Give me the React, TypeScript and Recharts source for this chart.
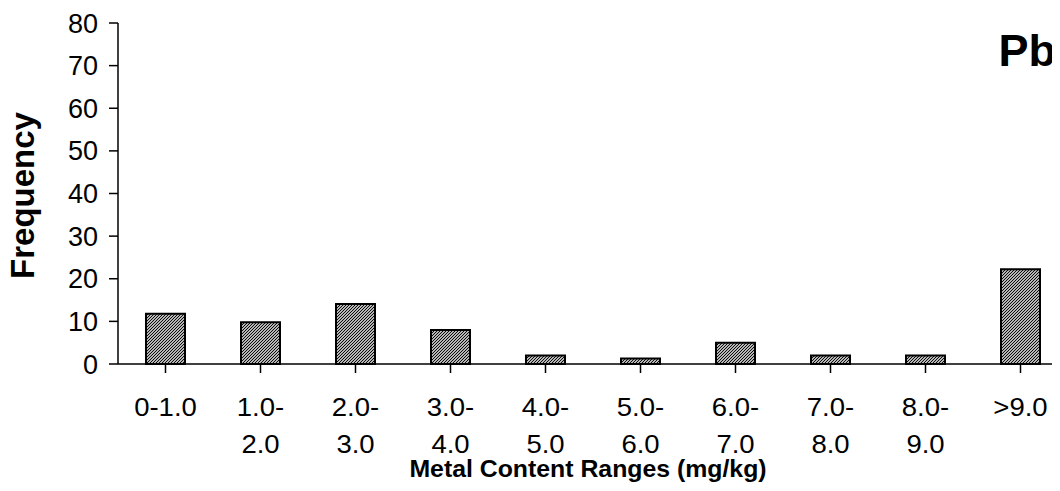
import { BarChart, Bar, XAxis, YAxis } from 'recharts'

const categories = ['0-1.0', '1.0-2.0', '2.0-3.0', '3.0-4.0', '4.0-5.0', '5.0-6.0', '6.0-7.0', '7.0-8.0', '8.0-9.0', '>9.0']
const frequency = [11.8, 9.8, 14.1, 8, 2, 1.3, 5, 2, 2, 22.2]
const tickLabels = [
  ['0-1.0'], ['1.0-', '2.0'], ['2.0-', '3.0'], ['3.0-', '4.0'], ['4.0-', '5.0'],
  ['5.0-', '6.0'], ['6.0-', '7.0'], ['7.0-', '8.0'], ['8.0-', '9.0'], ['>9.0'],
]
const yTicks = [0, 10, 20, 30, 40, 50, 60, 70, 80]

const data = categories.map((c, i) => ({ range: c, freq: frequency[i] }))

const font = '"Liberation Sans", Arial, sans-serif'

// the source image is a bit wider than tall, so text gets a horizontal stretch
function XTick(props: any) {
  const { x, y, index } = props
  const lines = tickLabels[index] || []
  return (
    <text transform={`translate(${x},${y}) scale(1.1,1)`} textAnchor="middle" fontFamily={font} fontSize={25} fill="#000">
      {lines.map((l, i) => (
        <tspan key={i} x={0} dy={i === 0 ? 18 : 37}>{l}</tspan>
      ))}
    </text>
  )
}

export default function App() {
  return (
    <div style={{ margin: -8, width: 1060, height: 491, overflow: 'hidden', position: 'relative', background: '#fff' }}>
      <svg width={0} height={0} style={{ position: 'absolute' }}>
        <defs>
          <pattern id="hatch" patternUnits="userSpaceOnUse" width={3} height={3}>
            <rect width={3} height={3} fill="#fff" />
            <path d="M-1,1 l2,-2 M0,3 l3,-3 M2,4 l2,-2" stroke="#000" strokeWidth={1.1} />
          </pattern>
        </defs>
      </svg>
      <BarChart width={1080} height={491} data={data} margin={{ top: 23, right: 12, bottom: 0, left: 0 }}>
        <XAxis
          dataKey="range"
          height={127}
          interval={0}
          tick={<XTick />}
          tickSize={9}
          tickMargin={25}
          axisLine={{ stroke: '#000', strokeWidth: 1.5 }}
          tickLine={{ stroke: '#000', strokeWidth: 1.5 }}
          label={{
            content: ({ viewBox }: any) => (
              <text
                transform={`translate(${viewBox.x + viewBox.width / 2 - 5},477) scale(1.08,1)`}
                textAnchor="middle"
                fontFamily={font}
                fontWeight="bold"
                fontSize={23}
                fill="#000"
              >
                Metal Content Ranges (mg/kg)
              </text>
            ),
          }}
        />
        <YAxis
          width={118}
          domain={[0, 80]}
          ticks={yTicks}
          interval={0}
          tickSize={9}
          tickMargin={11}
          tick={{ fontFamily: font, fontSize: 27, fill: '#000' }}
          axisLine={{ stroke: '#000', strokeWidth: 1.5 }}
          tickLine={{ stroke: '#000', strokeWidth: 1.5 }}
          label={{
            content: ({ viewBox }: any) => {
              const cy = viewBox.y + viewBox.height / 2 + 2
              return (
                <text
                  x={34}
                  y={cy}
                  transform={`rotate(-90, 34, ${cy})`}
                  textAnchor="middle"
                  fontFamily={font}
                  fontWeight="bold"
                  fontSize={33}
                  fill="#000"
                >
                  Frequency
                </text>
              )
            },
          }}
        />
        <Bar dataKey="freq" barSize={39} fill="url(#hatch)" stroke="#000" strokeWidth={2} isAnimationActive={false} />
      </BarChart>
      <div
        style={{
          position: 'absolute', right: 4, top: 26, fontFamily: font, fontWeight: 'bold',
          fontSize: 45, lineHeight: '50px', color: '#000',
        }}
      >
        Pb
      </div>
    </div>
  )
}
